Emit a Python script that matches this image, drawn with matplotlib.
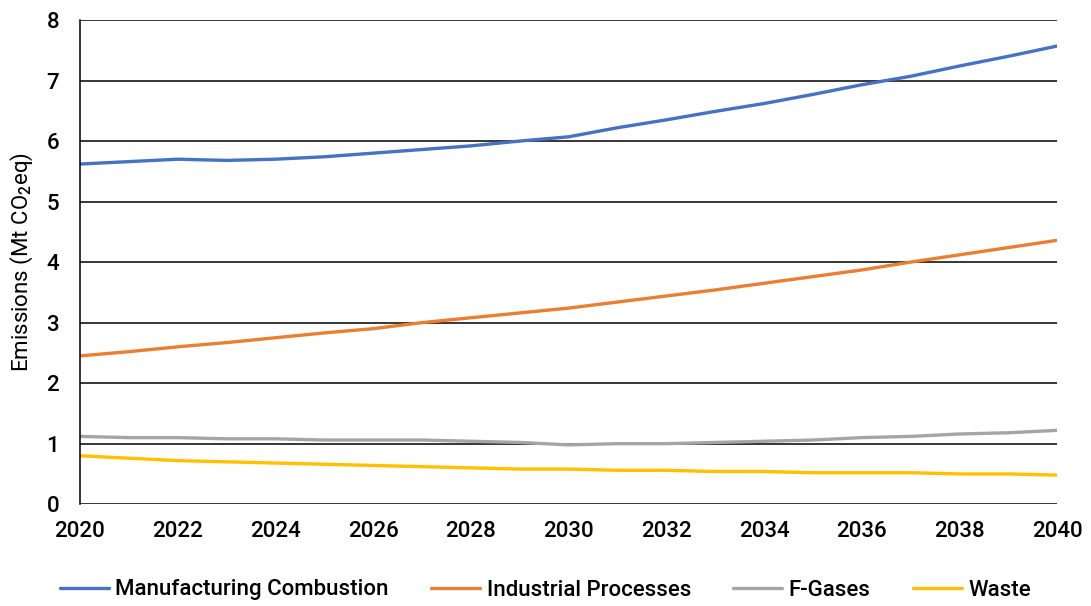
import matplotlib
matplotlib.use("Agg")
import matplotlib.pyplot as plt

plt.rcParams["font.family"] = ["Roboto", "DejaVu Sans"]
plt.rcParams["font.weight"] = "medium"
plt.rcParams["mathtext.fontset"] = "custom"
plt.rcParams["mathtext.rm"] = "Roboto:medium"
plt.rcParams["mathtext.it"] = "Roboto:medium"

years = list(range(2020, 2041))
manufacturing = [5.62, 5.66, 5.70, 5.68, 5.70, 5.74, 5.80, 5.86, 5.92, 6.00, 6.07,
                 6.22, 6.35, 6.49, 6.62, 6.77, 6.93, 7.07, 7.24, 7.40, 7.57]
industrial = [2.45, 2.52, 2.60, 2.67, 2.75, 2.83, 2.90, 3.00, 3.08, 3.16, 3.24,
              3.34, 3.44, 3.54, 3.65, 3.76, 3.87, 4.00, 4.12, 4.24, 4.36]
fgases = [1.12, 1.10, 1.10, 1.08, 1.08, 1.06, 1.06, 1.06, 1.04, 1.02, 0.98,
          1.00, 1.00, 1.02, 1.04, 1.06, 1.10, 1.12, 1.16, 1.18, 1.22]
waste = [0.80, 0.76, 0.72, 0.70, 0.68, 0.66, 0.64, 0.62, 0.60, 0.58, 0.58,
         0.56, 0.56, 0.54, 0.54, 0.52, 0.52, 0.52, 0.50, 0.50, 0.48]
labels = ["Manufacturing Combustion", "Industrial Processes", "F-Gases", "Waste"]
colors = ["#4472C4", "#ED7D31", "#A5A5A5", "#FFC000"]

fig = plt.figure(figsize=(10.91, 6.06), dpi=100)
ax = fig.add_axes([0.0733, 0.168, 0.8957, 0.799])

for series, lab, col in zip([manufacturing, industrial, fgases, waste], labels, colors):
    ax.plot(years, series, color=col, lw=2.4, label=lab, solid_capstyle="round")

ax.set_xlim(2020, 2040)
ax.set_ylim(0, 8)
ax.set_xticks(range(2020, 2041, 2))
ax.set_yticks(range(0, 9))
ax.grid(axis="y", color="black", lw=1.1)
ax.set_axisbelow(True)
for s in ["top", "right", "bottom"]:
    ax.spines[s].set_visible(False)
ax.spines["left"].set_color("black")
ax.spines["left"].set_linewidth(1.1)
ax.tick_params(length=0, labelsize=16)
ax.tick_params(axis="x", pad=12)
ax.tick_params(axis="y", pad=15)
ax.set_ylabel("Emissions (Mt CO$_2$eq)", fontsize=16, labelpad=8)

ax.legend(loc="center", bbox_to_anchor=(0.5, 16 / 606), bbox_transform=fig.transFigure,
          ncol=4, frameon=False, fontsize=16, handlelength=2.2, columnspacing=1.9,
          handletextpad=0.3)

fig.savefig("out.png", dpi=100)
